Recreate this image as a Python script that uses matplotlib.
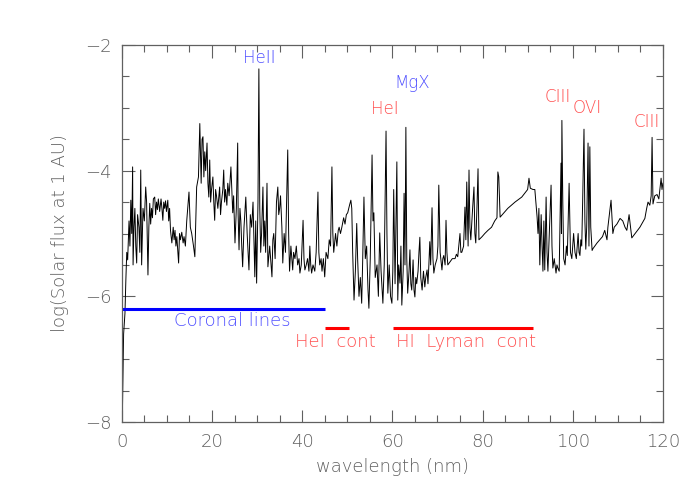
"""Solar EUV spectrum with line identifications."""
import matplotlib
matplotlib.use("Agg")
import matplotlib.pyplot as plt
from matplotlib.ticker import MultipleLocator

# spectrum: wavelength (nm), log flux
wave = [0.1, 0.4, 0.7, 0.9, 1.1, 1.3, 1.6, 1.8, 2.0, 2.2,
        2.4, 2.5, 2.7, 2.9, 3.1, 3.3, 3.5, 3.8, 4.0, 4.2,
        4.4, 4.7, 5.0, 5.3, 5.5, 5.8, 6.0, 6.2, 6.4, 6.6,
        6.8, 7.0, 7.3, 7.5, 7.7, 7.9, 8.1, 8.4, 8.7, 8.9,
        9.1, 9.3, 9.5, 9.7, 9.9, 10.2, 10.4, 10.6, 10.8, 11.1,
        11.4, 11.6, 11.8, 12.0, 12.2, 12.6, 12.8, 13.0, 13.3, 13.6,
        13.8, 14.1, 14.4, 14.9, 15.2, 15.5, 15.9, 16.2, 16.6, 17.0,
        17.3, 17.5, 17.6, 17.8, 18.0, 18.2, 18.4, 18.6, 18.9, 19.1,
        19.3, 19.5, 19.7, 19.9, 20.2, 20.4, 20.6, 20.8, 21.0, 21.3,
        21.7, 21.9, 22.1, 22.4, 22.6, 22.8, 23.0, 23.3, 23.5, 23.8,
        24.2, 24.4, 24.6, 24.8, 25.1, 25.4, 25.7, 25.8, 26.0, 26.2,
        26.4, 26.6, 26.8, 27.1, 27.5, 27.8, 28.2, 28.5, 28.8, 29.1,
        29.5, 29.7, 29.9, 30.2, 30.4, 30.6, 30.8, 31.0, 31.3, 31.5,
        31.7, 31.9, 32.2, 32.4, 32.8, 33.3, 33.5, 33.7, 34.0, 34.3,
        34.6, 34.8, 35.0, 35.2, 35.5, 35.7, 36.0, 36.3, 36.8, 37.0,
        37.2, 37.5, 37.9, 38.1, 38.4, 38.7, 39.0, 39.3, 39.5, 39.8,
        40.2, 40.4, 40.6, 40.9, 41.2, 41.5, 41.7, 41.9, 42.1, 42.4,
        42.8, 43.1, 43.5, 43.7, 43.9, 44.2, 44.4, 44.7, 45.0, 45.3,
        45.7, 46.0, 46.3, 46.6, 46.8, 47.0, 47.4, 47.7, 48.0, 48.2,
        48.5, 48.8, 49.2, 49.5, 49.8, 50.1, 50.5, 50.8, 51.0, 51.2,
        51.5, 51.8, 52.1, 52.3, 52.6, 52.9, 53.2, 53.4, 53.7, 54.0,
        54.3, 54.6, 54.8, 55.1, 55.5, 55.7, 55.9, 56.2, 56.6, 56.9,
        57.2, 57.5, 57.9, 58.2, 58.6, 58.8, 59.0, 59.3, 59.6, 59.9,
        60.1, 60.3, 60.6, 61.0, 61.2, 61.4, 61.7, 61.9, 62.1, 62.4,
        62.6, 62.8, 63.0, 63.2, 63.4, 63.7, 63.9, 64.1, 64.3, 64.6,
        64.8, 65.0, 65.2, 65.4, 65.7, 65.9, 66.1, 66.3, 66.6, 66.9,
        67.2, 67.4, 67.7, 67.9, 68.1, 68.3, 68.5, 68.8, 69.0, 69.2,
        69.5, 69.9, 70.1, 70.3, 70.6, 71.0, 71.2, 71.4, 71.7, 71.9,
        72.1, 72.3, 72.8, 73.3, 73.9, 74.2, 74.5, 75.0, 75.2, 75.4,
        75.8, 76.1, 76.3, 76.5, 76.8, 77.0, 77.2, 77.4, 77.8, 78.1,
        78.3, 78.5, 78.8, 79.0, 79.2, 79.9, 80.5, 81.2, 82.0, 82.7,
        83.2, 83.4, 83.6, 83.9, 85.6, 87.2, 88.7, 90.0, 90.3, 90.6,
        91.2, 91.6, 92.1, 92.3, 92.5, 92.7, 93.0, 93.2, 93.4, 93.6,
        93.8, 94.1, 94.3, 94.5, 94.8, 95.2, 95.4, 95.6, 95.9, 96.3,
        96.5, 96.7, 97.0, 97.4, 97.5, 97.6, 97.8, 98.0, 98.3, 98.6,
        98.8, 99.2, 99.5, 99.8, 100.2, 100.5, 100.8, 101.2, 101.4, 101.6,
        101.8, 102.0, 102.2, 102.5, 102.7, 102.9, 103.1, 103.4, 103.6, 103.8,
        104.0, 104.3, 104.5, 104.9, 105.4, 106.0, 106.6, 107.1, 107.6, 107.8,
        108.5, 108.9, 109.2, 109.8, 110.5, 111.1, 111.6, 112.0, 112.5, 113.1,
        114.9, 116.0, 116.4, 116.7, 117.1, 117.4, 117.6, 117.8, 118.2, 118.7,
        119.1, 119.4, 119.6, 119.8, 120.0]
logflux = [-8.0, -6.6, -6.27, -5.74, -5.3, -5.42, -4.8, -5.2, -4.47, -5.0,
           -3.94, -5.5, -4.9, -4.6, -5.2, -5.47, -4.7, -4.9, -5.3, -3.99,
           -5.5, -4.6, -4.8, -4.26, -4.5, -5.66, -4.9, -4.52, -4.85, -4.6,
           -4.75, -4.45, -4.42, -4.7, -4.5, -4.62, -4.45, -4.65, -4.45, -4.6,
           -4.79, -4.5, -4.6, -4.48, -4.65, -4.47, -4.8, -4.6, -4.95, -5.15,
           -4.9, -5.1, -4.95, -5.2, -5.05, -5.47, -5.0, -5.1, -4.98, -5.15,
           -5.05, -5.2, -4.8, -4.34, -4.9, -5.0, -5.2, -5.37, -4.26, -4.1,
           -3.25, -3.9, -4.2, -3.5, -3.46, -4.1, -3.7, -4.0, -3.56, -4.2,
           -4.42, -3.83, -4.5, -4.3, -4.1, -4.5, -4.79, -4.3, -4.4, -4.6,
           -4.26, -4.7, -4.5, -4.3, -3.99, -4.5, -4.3, -4.55, -4.2, -4.4,
           -3.94, -4.3, -4.67, -4.4, -5.15, -4.6, -3.56, -4.7, -5.26, -4.6,
           -4.8, -5.2, -5.53, -4.9, -4.42, -5.0, -5.58, -4.7, -4.9, -4.5,
           -5.69, -4.8, -5.79, -4.5, -2.38, -4.6, -5.3, -5.0, -4.26, -5.2,
           -4.8, -5.3, -4.2, -5.53, -5.2, -5.69, -5.1, -5.0, -5.4, -4.5,
           -4.26, -4.7, -4.6, -4.4, -4.9, -5.47, -5.0, -5.3, -3.67, -5.0,
           -5.6, -5.2, -5.58, -5.3, -5.4, -5.2, -5.5, -5.4, -5.63, -5.5,
           -4.79, -5.4, -5.58, -5.5, -5.4, -5.6, -5.2, -5.5, -5.63, -5.5,
           -5.6, -5.3, -4.34, -5.3, -5.5, -5.4, -5.6, -5.4, -5.69, -5.3,
           -5.4, -5.1, -5.2, -3.94, -5.0, -5.3, -5.0, -5.2, -4.95, -4.9,
           -5.0, -4.9, -4.75, -4.85, -4.7, -4.67, -4.55, -4.47, -4.6, -5.3,
           -6.06, -5.6, -4.84, -5.4, -6.0, -5.7, -6.11, -5.5, -4.42, -5.4,
           -5.2, -5.9, -6.19, -5.4, -3.75, -4.8, -4.67, -5.7, -5.5, -6.0,
           -4.99, -5.6, -6.11, -5.5, -3.37, -5.0, -5.95, -5.5, -6.0, -6.11,
           -5.6, -4.3, -5.8, -3.86, -6.06, -5.5, -5.79, -5.2, -6.14, -5.6,
           -4.36, -5.5, -3.31, -5.4, -5.95, -5.6, -5.26, -5.8, -5.9, -5.42,
           -5.9, -6.01, -5.7, -5.8, -5.6, -5.3, -5.06, -5.7, -5.9, -5.6,
           -5.85, -5.7, -5.58, -5.8, -5.5, -5.13, -5.5, -4.59, -5.4, -5.63,
           -5.5, -5.4, -5.2, -4.23, -5.3, -5.58, -5.4, -5.35, -5.5, -4.79,
           -5.3, -5.5, -5.45, -5.4, -5.4, -5.33, -5.37, -5.0, -5.3, -5.3,
           -5.2, -4.58, -5.1, -4.18, -5.2, -3.99, -4.9, -5.1, -4.6, -4.26,
           -5.0, -5.15, -4.5, -3.97, -5.1, -5.05, -5.0, -4.95, -4.9, -4.8,
           -4.75, -4.02, -4.1, -4.74, -4.6, -4.5, -4.42, -4.3, -4.12, -4.28,
           -4.3, -4.3, -4.74, -5.0, -4.6, -5.5, -4.7, -5.2, -5.6, -4.8,
           -5.58, -4.42, -5.3, -5.6, -5.0, -4.23, -5.2, -5.55, -5.4, -5.63,
           -5.5, -5.55, -5.6, -3.88, -5.0, -3.2, -4.5, -5.4, -5.5, -5.2,
           -5.35, -4.2, -5.3, -5.4, -5.0, -5.3, -5.4, -5.0, -5.3, -5.35,
           -5.1, -5.2, -4.5, -3.34, -4.8, -5.25, -4.9, -3.56, -5.2, -3.62,
           -4.9, -5.27, -5.24, -5.2, -5.15, -5.1, -5.05, -4.95, -5.1, -4.9,
           -4.47, -5.0, -4.9, -4.85, -4.76, -4.8, -4.9, -4.95, -4.7, -5.07,
           -4.9, -4.76, -4.6, -4.5, -4.55, -4.4, -3.47, -4.53, -4.4, -4.38,
           -4.45, -4.25, -4.12, -4.3, -4.2]

# line identifications
line_names = ["HeII", "MgX", "HeI", "CIII", "OVI", "CIII"]
line_x = [30.5, 64.3, 58.3, 96.7, 103.2, 116.5]
line_y = [-2.21, -2.6, -3.02, -2.83, -3.0, -3.23]
line_kind = ["cor", "cor", "cool", "cool", "cool", "cool"]

# wavelength ranges marked under the spectrum
band_names = ["Coronal lines", "HeI  cont", "HI  Lyman  cont"]
band_start = [0, 45, 60.1]
band_end = [45, 50.4, 91.2]
band_y = [-6.2, -6.5, -6.5]
band_label_x = [24.4, 47.3, 76.3]
band_label_y = [-6.4, -6.72, -6.72]
band_kind = ["cor", "cool", "cool"]

line_col = {"cor": "#0000ff", "cool": "#ff0000"}
text_col = {"cor": "#5050ff", "cool": "#ff5050"}
grey = "#606060"

fig = plt.figure(figsize=(7, 5), dpi=100)
ax = fig.add_axes([0.174, 0.156, 0.773, 0.754])

ax.plot(wave, logflux, color="black", lw=0.7)

for name, x, y, k in zip(line_names, line_x, line_y, line_kind):
    ax.text(x, y, name, color=text_col[k], fontsize=12, ha="center",
            va="center", fontweight="light")

for i, name in enumerate(band_names):
    k = band_kind[i]
    ax.plot([band_start[i], band_end[i]], [band_y[i], band_y[i]],
            color=line_col[k], lw=2.2, solid_capstyle="butt")
    ax.text(band_label_x[i], band_label_y[i], name, color=text_col[k],
            fontsize=13, ha="center", va="center", fontweight="light")

ax.set_xlim(0, 120)
ax.set_ylim(-8, -2)
ax.xaxis.set_major_locator(MultipleLocator(20))
ax.xaxis.set_minor_locator(MultipleLocator(5))
ax.yaxis.set_major_locator(MultipleLocator(2))
ax.yaxis.set_minor_locator(MultipleLocator(0.5))
ax.tick_params(which="both", direction="in", top=True, right=True,
               colors=grey, labelsize=13, labelcolor=grey)
ax.tick_params(which="major", length=9, width=0.8)
ax.tick_params(which="minor", length=5, width=0.8)
ax.tick_params(axis="x", pad=8)
ax.tick_params(axis="y", pad=7)
for lab in ax.get_xticklabels() + ax.get_yticklabels():
    lab.set_fontweight("light")
for s in ax.spines.values():
    s.set_color(grey)
    s.set_linewidth(0.9)

ax.set_xlabel("wavelength (nm)", color=grey, fontsize=13, labelpad=5,
              fontweight="light")
ax.set_ylabel("log(Solar flux at 1 AU)", color=grey, fontsize=13,
              labelpad=12, fontweight="light")

fig.savefig("out.png", dpi=100)
